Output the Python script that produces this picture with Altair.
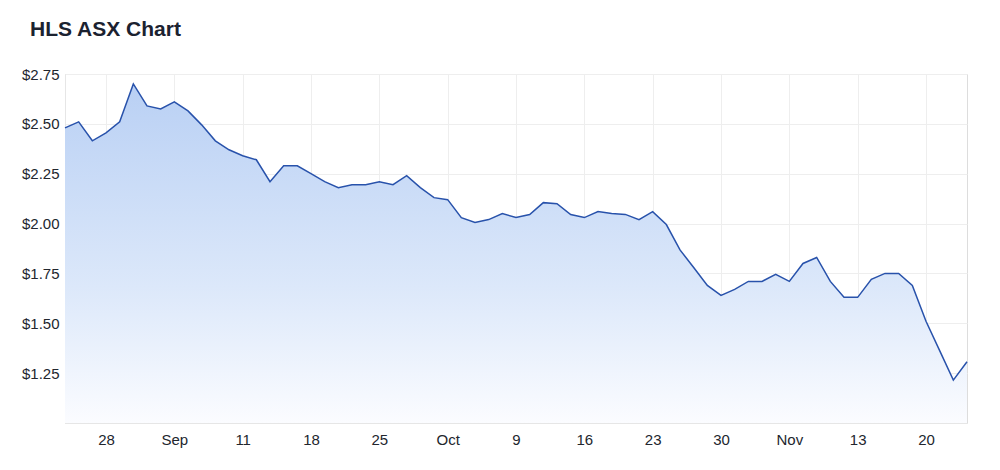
import altair as alt
import pandas as pd

# Trading days 23 Aug 2023 .. 23 Nov 2023 (weekdays only)
dates = pd.bdate_range("2023-08-23", "2023-11-23").strftime("%Y-%m-%d").tolist()

prices = [
    2.48, 2.51, 2.415, 2.455, 2.51, 2.70, 2.59, 2.575, 2.61, 2.565,
    2.495, 2.415, 2.37, 2.34, 2.32, 2.21, 2.29, 2.29, 2.25, 2.21,
    2.18, 2.195, 2.195, 2.21, 2.195, 2.24, 2.18, 2.13, 2.12, 2.03,
    2.005, 2.02, 2.05, 2.03, 2.045, 2.105, 2.10, 2.045, 2.03, 2.06,
    2.05, 2.046, 2.02, 2.06, 1.995, 1.868, 1.78, 1.69, 1.64, 1.67,
    1.71, 1.71, 1.745, 1.71, 1.80, 1.83, 1.71, 1.63, 1.63, 1.72,
    1.75, 1.75, 1.69, 1.51, 1.363, 1.215, 1.307,
]

tick_idx = [3, 8, 13, 18, 23, 28, 33, 38, 43, 48, 53, 58, 63]
tick_labels = ["28", "Sep", "11", "18", "25", "Oct", "9", "16", "23", "30", "Nov", "13", "20"]
y_ticks = [1.25, 1.50, 1.75, 2.00, 2.25, 2.50, 2.75]

df = pd.DataFrame({"idx": list(range(len(prices))), "date": dates[: len(prices)], "price": prices})

label_expr = "[" + ",".join(f"'{t}'" for t in tick_labels) + "][(datum.value-3)/5]"

x_enc = alt.X(
    "idx:Q",
    scale=alt.Scale(domain=[0, len(prices) - 1], nice=False, zero=False),
    axis=alt.Axis(
        values=tick_idx,
        labelExpr=label_expr,
        title=None,
        grid=True,
        gridColor="#eeeeee",
        domainColor="#e6e6e6",
        ticks=False,
        labelPadding=9,
        labelFontSize=15,
        labelFont="Liberation Sans",
        labelColor="#22262e",
    ),
)
y_enc = alt.Y(
    "price:Q",
    scale=alt.Scale(domain=[1.0, 2.75], nice=False, zero=False),
    axis=alt.Axis(
        values=y_ticks,
        format="$.2f",
        title=None,
        grid=True,
        gridColor="#eeeeee",
        domainColor="#e6e6e6",
        ticks=False,
        labelPadding=6,
        labelFontSize=15,
        labelFont="Liberation Sans",
        labelColor="#22262e",
    ),
)

area = alt.Chart(df).mark_area(
    color=alt.Gradient(
        gradient="linear",
        stops=[
            alt.GradientStop(color="#b9d0f4", offset=0),
            alt.GradientStop(color="#dce8fa", offset=0.6),
            alt.GradientStop(color="#fbfcff", offset=1),
        ],
        x1=1, x2=1, y1=0, y2=1,
    ),
    line=False,
).encode(x=x_enc, y=y_enc, y2=alt.datum(1.0))

line = alt.Chart(df).mark_line(color="#2852ab", strokeWidth=1.5).encode(
    x="idx:Q", y="price:Q", tooltip=["date:N", "price:Q"]
)

chart = (
    alt.layer(area, line)
    .properties(
        width=902,
        height=349,
        title=alt.TitleParams(
            "HLS ASX Chart",
            anchor="start",
            frame="group",
            font="Liberation Sans",
            fontSize=21,
            fontWeight="bold",
            color="#1b2230",
            dx=-35,
            offset=27,
        ),
        padding={"left": 57, "top": 66, "right": 25, "bottom": 39},
        autosize=alt.AutoSizeParams(type="none"),
    )
    .configure_view(stroke="#e6e6e6")
    .configure(background="white")
)

chart.save("out.html", embed_options={"renderer": "svg", "actions": False})
